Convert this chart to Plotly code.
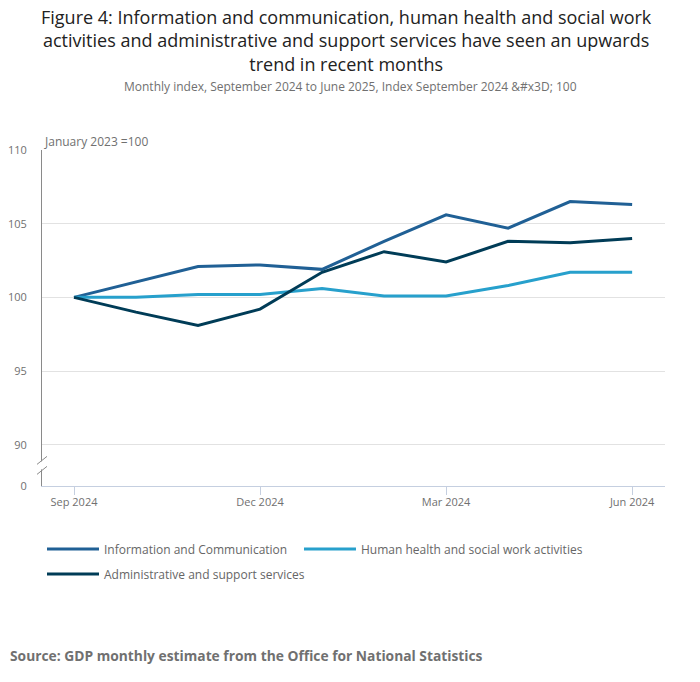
import plotly.graph_objects as go

months = ["Sep 2024", "Oct 2024", "Nov 2024", "Dec 2024", "Jan 2025",
          "Feb 2025", "Mar 2025", "Apr 2025", "May 2025", "Jun 2025"]
info_comm = [100.0, 101.05, 102.1, 102.2, 101.9, 103.8, 105.6, 104.7, 106.5, 106.3]
health_social = [100.0, 100.0, 100.2, 100.2, 100.6, 100.1, 100.1, 100.8, 101.7, 101.7]
admin_support = [100.0, 99.0, 98.1, 99.2, 101.7, 103.1, 102.4, 103.8, 103.7, 104.0]

x_tick_pos = [0, 3, 6, 9]
x_tick_text = ["Sep 2024", "Dec 2024", "Mar 2024", "Jun 2024"]
y_tick_vals = [87.2, 90, 95, 100, 105, 110]
y_tick_text = ["0", "90", "95", "100", "105", "110"]

title_lines = [
    "Figure 4: Information and communication, human health and social work",
    "activities and administrative and support services have seen an upwards",
    "trend in recent months",
]

series = [
    ("Information and Communication", info_comm, "#206095", "legend"),
    ("Human health and social work activities", health_social, "#27a0cc", "legend2"),
    ("Administrative and support services", admin_support, "#003c57", "legend3"),
]

FONT = "Open Sans, sans-serif"
idx = list(range(len(months)))

fig = go.Figure()
for name, vals, col, leg in series:
    fig.add_trace(go.Scatter(
        x=idx, y=vals, name=name, mode="lines", legend=leg,
        text=months, hovertemplate="%{text}: %{y}<extra>" + name + "</extra>",
        line={"color": col, "width": 3},
    ))

# axis break marks near the bottom of the y axis
fig.add_shape(type="rect", xref="paper", yref="y", xanchor=0, xsizemode="pixel",
              yanchor=88.6, ysizemode="pixel", x0=-3, x1=3, y0=-4, y1=4,
              fillcolor="white", line={"width": 0}, layer="above")
for off in (-5, 5):
    fig.add_shape(type="line", xref="paper", yref="y", xanchor=0, xsizemode="pixel",
                  yanchor=88.6, ysizemode="pixel", x0=-5, x1=5, y0=off - 4, y1=off + 4,
                  line={"color": "#8a8a8a", "width": 1}, layer="above")

annotations = [
    {"text": "<br>".join(title_lines), "xref": "paper", "yref": "paper",
     "x": 0.5, "y": 1.327, "xanchor": "center", "xshift": -7, "yanchor": "middle",
     "showarrow": False, "font": {"size": 18, "color": "#222222"}},
    {"text": "Monthly index, September 2024 to June 2025, Index September 2024 &amp;#x3D; 100",
     "xref": "paper", "yref": "paper", "x": 0.5, "y": 1.19, "xanchor": "center",
     "xshift": -3, "yanchor": "middle", "showarrow": False,
     "font": {"size": 12, "color": "#707070"}},
    {"text": "January 2023 =100", "xref": "paper", "yref": "paper",
     "x": 0, "y": 1.0, "xanchor": "left", "yanchor": "bottom", "yshift": -2,
     "showarrow": False, "font": {"size": 12, "color": "#707070"}},
    {"text": "<b>Source: GDP monthly estimate from the Office for National Statistics</b>",
     "xref": "paper", "yref": "paper", "x": -0.0514, "y": -0.503,
     "xanchor": "left", "xshift": -2, "yanchor": "middle", "showarrow": False,
     "font": {"size": 13.8, "color": "#707070"}},
]

legend_style = {"orientation": "h", "xanchor": "left", "yanchor": "middle",
                "itemwidth": 52, "font": {"size": 12, "color": "#666666"}}

fig.update_layout(
    width=700, height=682,
    font={"family": FONT, "color": "#707070", "size": 12},
    paper_bgcolor="white", plot_bgcolor="white",
    margin={"l": 42, "r": 35, "t": 150, "b": 196},
    showlegend=True,
    legend={**legend_style, "x": 0.0, "y": -0.1875},
    legend2={**legend_style, "x": 0.4125, "y": -0.1875},
    legend3={**legend_style, "x": 0.0, "y": -0.262},
    xaxis={
        "range": [-0.516, 9.53], "tickmode": "array", "tickvals": x_tick_pos,
        "ticktext": x_tick_text, "showgrid": False, "zeroline": False,
        "showline": True, "linecolor": "#c5cfe0", "linewidth": 1,
        "ticks": "outside", "ticklen": 8, "tickcolor": "#c5cfe0",
        "ticklabelstandoff": -2,
        "tickfont": {"size": 11, "color": "#707070"},
        "fixedrange": True, "automargin": False,
    },
    yaxis={
        "range": [87.2, 110], "tickmode": "array", "tickvals": y_tick_vals,
        "ticktext": y_tick_text, "showgrid": True, "gridcolor": "#e2e2e2",
        "zeroline": False, "showline": True, "linecolor": "#8a8a8a", "linewidth": 1,
        "ticks": "outside", "ticklen": 12, "tickcolor": "rgba(0,0,0,0)",
        "tickfont": {"size": 11, "color": "#707070"},
        "fixedrange": True, "automargin": False,
    },
    annotations=annotations,
)

fig.write_html("out.html", config={"displayModeBar": False},
               post_script="document.body.style.margin = '0';")
